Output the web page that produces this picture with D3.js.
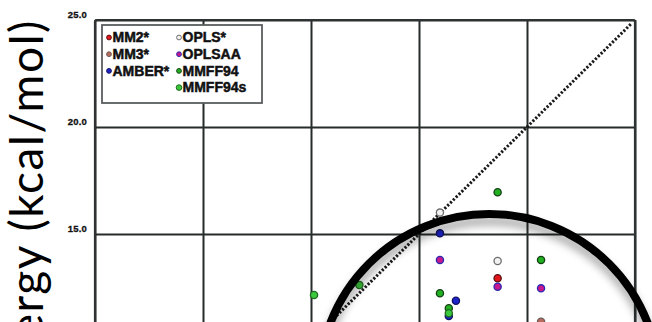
<!DOCTYPE html>
<html>
<head>
<meta charset="utf-8">
<script src="https://cdn.jsdelivr.net/npm/d3@7"></script>
<style>
  html, body { margin: 0; padding: 0; background: #fff; }
  svg { display: block; overflow: hidden; }
</style>
</head>
<body>
<svg id="chart" width="652" height="322"></svg>
<script>
// Relative conformer energies (kcal/mol) by force field
const seriesNames = ["MM2*", "MM3*", "AMBER*", "OPLS*", "OPLSAA", "MMFF94", "MMFF94s"];
const mm2X = [18.64];               const mm2Y = [12.93];
const mm3X = [20.65];               const mm3Y = [10.9];
const amberX = [15.97, 16.71, 16.38]; const amberY = [15.03, 11.88, 11.17];
const oplsX = [15.97, 18.64];       const oplsY = [16.0, 13.74];
const oplsaaX = [15.97, 18.64, 20.65]; const oplsaaY = [13.79, 12.54, 12.46];
const mmff94X = [18.64, 15.97, 16.38, 20.65]; const mmff94Y = [16.95, 12.23, 11.53, 13.79];
const mmff94sX = [10.14, 12.24, 16.38]; const mmff94sY = [12.15, 12.62, 11.3];
const tickValues = [0, 5, 10, 15, 20, 25];
const axisTitle = "Energy (kcal/mol)";

const styles = {
  "MM2*":    { fill: "#e3161b", stroke: "#5a1010" },
  "MM3*":    { fill: "#b86a5c", stroke: "#6a5a58" },
  "AMBER*":  { fill: "#1c24c8", stroke: "#101060" },
  "OPLS*":   { fill: "#f2f2f2", stroke: "#6e6e6e" },
  "OPLSAA":  { fill: "#c8188e", stroke: "#2a2ab0" },
  "MMFF94":  { fill: "#22b022", stroke: "#124012" },
  "MMFF94s": { fill: "#3cc83c", stroke: "#1e6a1e" }
};

const seriesData = [
  [mm2X, mm2Y], [mm3X, mm3Y], [amberX, amberY], [oplsX, oplsY],
  [oplsaaX, oplsaaY], [mmff94X, mmff94Y], [mmff94sX, mmff94sY]
].map(([xs, ys], i) => ({
  name: seriesNames[i],
  points: xs.map((v, j) => ({ x: v, y: ys[j] }))
}));

const svg = d3.select("#chart");
const plot = { left: 95, right: 635, top: 20, bottom: 555 };

const x = d3.scaleLinear().domain([0, 25]).range([plot.left, plot.right]);
const y = d3.scaleLinear().domain([0, 25]).range([plot.bottom, plot.top]);

const defs = svg.append("defs");
const shadow = defs.append("filter").attr("id", "ringShadow")
  .attr("x", "-20%").attr("y", "-20%").attr("width", "140%").attr("height", "140%");
shadow.append("feDropShadow").attr("dx", 0).attr("dy", 7)
  .attr("stdDeviation", 4).attr("flood-color", "#000").attr("flood-opacity", 0.35);

// Horizontal grid + y labels
const yAxis = svg.append("g")
  .attr("transform", `translate(${plot.left},0)`)
  .call(d3.axisLeft(y).tickValues(tickValues).tickFormat(d3.format(".1f"))
    .tickSize(-(plot.right - plot.left)).tickPadding(8));
yAxis.select(".domain").remove();
yAxis.selectAll(".tick line").attr("stroke", "#262b2b").attr("stroke-width", 2);
yAxis.selectAll(".tick text")
  .attr("font-family", "Liberation Sans, Arial, sans-serif")
  .attr("font-size", 9.5).attr("font-weight", "bold")
  .attr("letter-spacing", 0.2)
  .attr("stroke", "#111").attr("stroke-width", 0.3)
  .attr("fill", "#111").attr("dy", "-0.25em");

// Vertical grid
const xAxis = svg.append("g")
  .attr("transform", `translate(0,${plot.bottom})`)
  .call(d3.axisBottom(x).tickValues(tickValues).tickFormat("")
    .tickSize(-(plot.bottom - plot.top)));
xAxis.select(".domain").remove();
xAxis.selectAll(".tick line").attr("stroke", "#262b2b").attr("stroke-width", 2);

// Plot frame
svg.append("rect")
  .attr("x", plot.left).attr("y", plot.top)
  .attr("width", plot.right - plot.left).attr("height", plot.bottom - plot.top)
  .attr("rx", 2)
  .attr("fill", "none").attr("stroke", "#2e3232").attr("stroke-width", 2.2);

// Parity line y = x
svg.append("line")
  .attr("x1", x(0)).attr("y1", y(0)).attr("x2", x(24.85)).attr("y2", y(24.85))
  .attr("stroke", "#1a1a1a").attr("stroke-width", 3)
  .attr("stroke-dasharray", "2.2,1.8");

// Legend
const legend = svg.append("g");
legend.append("rect")
  .attr("x", 102).attr("y", 25).attr("width", 160).attr("height", 78)
  .attr("fill", "#fff").attr("stroke", "#5a5e5e").attr("stroke-width", 1.8);

const legendCols = [[0, 1, 2], [3, 4, 5, 6]];
const colX = [109, 179];
legendCols.forEach((col, ci) => {
  col.forEach((si, ri) => {
    const name = seriesNames[si];
    const cy = 37.5 + ri * 16.7;
    const g = legend.append("g");
    g.append("circle")
      .attr("cx", colX[ci]).attr("cy", cy).attr("r", name === "MMFF94s" ? 2.8 : 2.4)
      .attr("fill", styles[name].fill).attr("stroke", styles[name].stroke).attr("stroke-width", 1);
    g.append("text")
      .attr("x", colX[ci] + 3.5).attr("y", cy + 4.8)
      .attr("font-family", "Liberation Sans, Arial, sans-serif")
      .attr("font-size", 14).attr("font-weight", "bold")
      .attr("stroke", "#111").attr("stroke-width", 0.5)
      .attr("fill", "#111")
      .text(name);
  });
});

// Data points
seriesData.forEach(s => {
  svg.append("g").selectAll("circle")
    .data(s.points).join("circle")
    .attr("cx", d => x(d.x)).attr("cy", d => y(d.y)).attr("r", 3.6)
    .attr("fill", styles[s.name].fill)
    .attr("stroke", styles[s.name].stroke).attr("stroke-width", 1.3);
});

// Highlight ring around the cluster of points
svg.append("circle")
  .attr("cx", 489).attr("cy", 384).attr("r", 170)
  .attr("fill", "none").attr("stroke", "#000").attr("stroke-width", 8)
  .attr("filter", "url(#ringShadow)");

// Y-axis title
svg.append("text")
  .attr("transform", "translate(43,19) rotate(-90)")
  .attr("text-anchor", "end")
  .attr("font-family", "Lato, Open Sans, sans-serif")
  .attr("font-size", 46)
  .attr("letter-spacing", 1.6)
  .attr("fill", "#000")
  .text(axisTitle);
</script>
</body>
</html>
